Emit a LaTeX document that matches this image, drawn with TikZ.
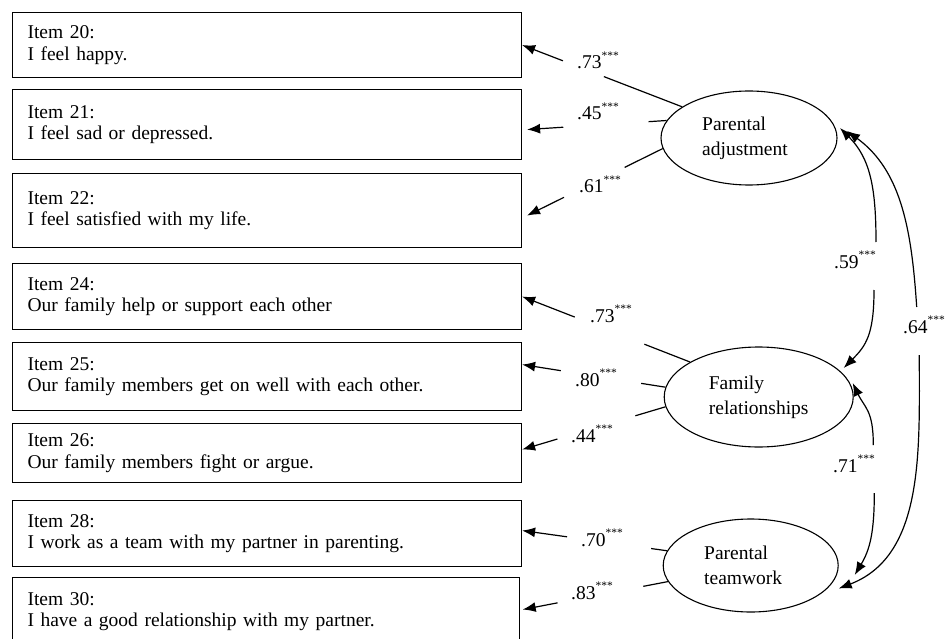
\documentclass[tikz,border=0pt]{standalone}
\usepackage{fontspec}
\setmainfont{Liberation Serif}
\usetikzlibrary{arrows.meta,shapes.geometric,calc}
\newcommand\sigstars{\raisebox{9.5pt}{\fontsize{11.5}{12}\selectfont ***}}
\begin{document}
\begin{tikzpicture}[x=1pt,y=-1pt,
  itembox/.style={draw, line width=1.1pt, anchor=north west, align=left,
    inner xsep=15pt, inner ysep=0pt, font=\fontsize{19.5}{21.5}\selectfont},
  latent/.style={draw, ellipse, line width=1.1pt, inner sep=0pt, align=left,
    font=\fontsize{19.5}{25}\selectfont},
  coef/.style={anchor=base west, inner sep=0pt, font=\fontsize{19.5}{21.5}\selectfont},
  load/.style={line width=1.2pt},
  loadarrow/.style={line width=1.2pt, -{Latex[length=13pt,width=10pt]}},
]
\clip (0,0) rectangle (947,639);
\fill[white] (0,0) rectangle (947,639);

% observed items
\node[itembox, text width=479pt, minimum height=65pt] (i20) at (12,12) {Item 20:\\I feel happy.};
\node[itembox, text width=479pt, minimum height=70pt] (i21) at (12,89) {Item 21:\\I feel sad or depressed.};
\node[itembox, text width=479pt, minimum height=74pt] (i22) at (12,173) {Item 22:\\I feel satisfied with my life.};
\node[itembox, text width=479pt, minimum height=66pt] (i24) at (12,263) {Item 24:\\Our family help or support each other};
\node[itembox, text width=479pt, minimum height=68pt] (i25) at (12,342) {Item 25:\\Our family members get on well with each other.};
\node[itembox, text width=479pt, minimum height=59pt] (i26) at (12,423) {Item 26:\\Our family members fight or argue.};
\node[itembox, text width=479pt, minimum height=66pt] (i28) at (12,500) {Item 28:\\I work as a team with my partner in parenting.};
\node[itembox, text width=476.6pt, minimum height=68pt] (i30) at (12,577) {Item 30:\\I have a good relationship with my partner.};

% latent factors
\node[latent, minimum width=176pt, minimum height=94pt] (pa) at (749,138) {Parental\\adjustment\hspace*{8pt}};
\node[latent, minimum width=189pt, minimum height=100pt] (fr) at (758.7,397) {Family\\relationships};
\node[latent, minimum width=175pt, minimum height=93pt] (pt) at (750.7,565.5) {Parental\\teamwork\hspace*{15pt}};

% loading end points
\path (pa.155.6) coordinate (s20) (i20.east) coordinate (e20)
      (pa.168.9) coordinate (s21) ([shift={(5,5)}]i21.east) coordinate (e21)
      (pa.187.3) coordinate (s22) ([shift={(5,5)}]i22.east) coordinate (e22)
      (fr.153.2) coordinate (s24) (i24.east) coordinate (e24)
      (fr.174.8) coordinate (s25) ([shift={(0,-12)}]i25.east) coordinate (e25)
      (fr.186.2) coordinate (s26) ([shift={(0,-3.5)}]i26.east) coordinate (e26)
      (pt.170.9) coordinate (s28) ([shift={(0,-3)}]i28.east) coordinate (e28)
      (pt.191.1) coordinate (s30) ([shift={(3,-2)}]i30.east) coordinate (e30);

\foreach \k/\a/\b in {20/0.489/0.745, 21/0.13/0.741, 22/0.281/0.728,
                     24/0.272/0.687, 25/0.17/0.73, 26/0.21/0.754,
                     28/0.11/0.69, 30/0.17/0.76}{
  \draw[load] (s\k) -- ($(s\k)!\a!(e\k)$);
  \draw[loadarrow] ($(s\k)!\b!(e\k)$) -- (e\k);
}

% loading labels
\node[coef] (c20) at (577,69) {.73\sigstars};
\node[coef] (c21) at (577,120) {.45\sigstars};
\node[coef] (c22) at (579,193) {.61\sigstars};
\node[coef] (c24) at (590,322) {.73\sigstars};
\node[coef] (c25) at (575,386) {.80\sigstars};
\node[coef] (c26) at (571,442) {.44\sigstars};
\node[coef] (c28) at (581,546) {.70\sigstars};
\node[coef] (c30) at (571,599) {.83\sigstars};

% covariances
\coordinate (g59a) at (876,242);
\coordinate (g59b) at (874,290);
\coordinate (g64a) at (916.7,307);
\coordinate (g64b) at (919.3,355);
\coordinate (g71a) at (873.3,445);
\coordinate (g71b) at (874.3,493);

\draw[loadarrow] (g59a) .. controls +(0,-55) and +(30,30) .. ([shift={(91,-10)}]pa.center);
\draw[loadarrow] (g59b) .. controls +(0,45) and +(22,-22) .. ([shift={(85,-29)}]fr.center);
\draw[loadarrow] (g64a) .. controls +(-5,-75) and +(55,40) .. ([shift={(98,-7)}]pa.center);
\draw[loadarrow] (g64b) .. controls +(0,95) and +(86,-33) .. ([shift={(88,23)}]pt.center);
\draw[loadarrow] (g71a) .. controls +(0,-35) and +(12,25) .. ([shift={(94,-14)}]fr.center);
\draw[loadarrow] (g71b) .. controls +(0,40) and +(15,-25) .. ([shift={(104,9.5)}]pt.center);

\node[coef] (c59) at (834,268) {.59\sigstars};
\node[coef] (c64) at (903,333) {.64\sigstars};
\node[coef] (c71) at (833,472) {.71\sigstars};
\end{tikzpicture}
\end{document}
